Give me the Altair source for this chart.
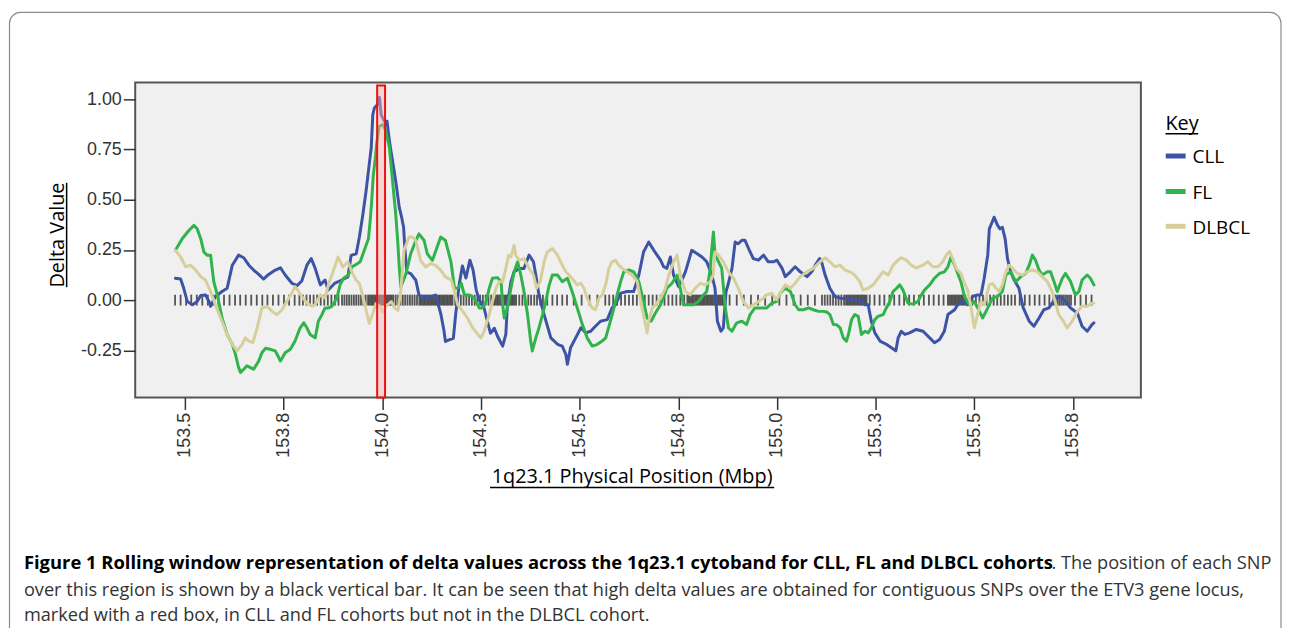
import altair as alt
import pandas as pd

# ---------------- data ----------------
series_names = ["CLL", "FL", "DLBCL"]
series_colors = ["#3d53a6", "#2fb34a", "#d6cf9c"]

cll = [
    (153.476, 0.109), (153.489, 0.105), (153.497, 0.059), (153.506, -0.007), (153.519, -0.023),
    (153.531, -0.007), (153.540, 0.023), (153.552, 0.026), (153.561, -0.007), (153.565, -0.031),
    (153.577, 0.018), (153.594, 0.043), (153.607, 0.059), (153.620, 0.174), (153.636, 0.224),
    (153.649, 0.211), (153.662, 0.174), (153.674, 0.150), (153.687, 0.128), (153.699, 0.105),
    (153.712, 0.128), (153.729, 0.150), (153.742, 0.161), (153.754, 0.125), (153.771, 0.084),
    (153.784, 0.072), (153.796, 0.095), (153.809, 0.174), (153.820, 0.207), (153.830, 0.158),
    (153.843, 0.076), (153.855, 0.100), (153.863, 0.050), (153.879, 0.083), (153.896, 0.099),
    (153.913, 0.116), (153.921, 0.223), (153.934, 0.231), (153.942, 0.314), (153.951, 0.429),
    (153.959, 0.545), (153.967, 0.677), (153.972, 0.759), (153.976, 0.924), (153.980, 0.957),
    (153.988, 0.974), (153.993, 1.010), (153.997, 0.924), (154.005, 0.891), (154.012, 0.891),
    (154.018, 0.792), (154.026, 0.693), (154.034, 0.594), (154.043, 0.462), (154.049, 0.413),
    (154.054, 0.363), (154.057, 0.264), (154.062, 0.140), (154.072, 0.132), (154.085, 0.099),
    (154.093, 0.025), (154.106, 0.008), (154.123, 0.017), (154.135, 0.025), (154.148, -0.066),
    (154.156, -0.149), (154.160, -0.206), (154.169, -0.198), (154.180, -0.190), (154.186, -0.070),
    (154.195, 0.080), (154.203, 0.170), (154.212, 0.110), (154.222, 0.199), (154.230, 0.150),
    (154.238, 0.050), (154.246, 0.000), (154.257, -0.033), (154.274, -0.165), (154.284, -0.140),
    (154.292, -0.180), (154.305, -0.229), (154.313, -0.171), (154.317, -0.023), (154.326, 0.092),
    (154.334, 0.141), (154.347, 0.158), (154.359, 0.158), (154.372, 0.224), (154.383, 0.191),
    (154.389, 0.125), (154.397, 0.026), (154.410, -0.072), (154.427, -0.188), (154.444, -0.220),
    (154.456, -0.229), (154.465, -0.270), (154.469, -0.319), (154.477, -0.237), (154.490, -0.188),
    (154.503, -0.138), (154.515, -0.163), (154.528, -0.155), (154.540, -0.130), (154.553, -0.105),
    (154.570, -0.097), (154.582, -0.039), (154.591, -0.023), (154.604, 0.035), (154.620, 0.043),
    (154.637, 0.043), (154.650, 0.125), (154.662, 0.240), (154.675, 0.289), (154.688, 0.248),
    (154.705, 0.199), (154.713, 0.166), (154.721, 0.158), (154.730, 0.215), (154.738, 0.125),
    (154.751, 0.067), (154.759, 0.100), (154.768, 0.141), (154.784, 0.248), (154.797, 0.232),
    (154.810, 0.215), (154.822, 0.191), (154.835, 0.125), (154.843, 0.059), (154.849, -0.105),
    (154.858, -0.155), (154.864, -0.138), (154.871, 0.043), (154.877, 0.084), (154.886, 0.158),
    (154.894, 0.289), (154.902, 0.281), (154.911, 0.298), (154.919, 0.298), (154.928, 0.257),
    (154.940, 0.207), (154.953, 0.199), (154.966, 0.224), (154.978, 0.191), (154.991, 0.191),
    (155.000, 0.199), (155.013, 0.158), (155.021, 0.117), (155.034, 0.141), (155.046, 0.166),
    (155.059, 0.141), (155.076, 0.117), (155.088, 0.141), (155.097, 0.174), (155.108, 0.207),
    (155.113, 0.191), (155.122, 0.125), (155.134, 0.059), (155.147, 0.018), (155.160, 0.010),
    (155.176, 0.007), (155.193, 0.002), (155.210, -0.003), (155.223, -0.023), (155.231, -0.023),
    (155.239, -0.105), (155.248, -0.163), (155.261, -0.204), (155.277, -0.220), (155.290, -0.237),
    (155.301, -0.253), (155.307, -0.188), (155.315, -0.155), (155.324, -0.171), (155.336, -0.163),
    (155.353, -0.146), (155.370, -0.155), (155.387, -0.188), (155.399, -0.212), (155.412, -0.196),
    (155.424, -0.155), (155.433, -0.072), (155.450, -0.048), (155.458, -0.023), (155.471, -0.007),
    (155.483, -0.023), (155.496, 0.018), (155.508, 0.026), (155.517, 0.026), (155.525, 0.109),
    (155.534, 0.224), (155.538, 0.355), (155.545, 0.388), (155.550, 0.413), (155.559, 0.372),
    (155.565, 0.355), (155.571, 0.363), (155.578, 0.306), (155.584, 0.207), (155.592, 0.141),
    (155.601, 0.100), (155.613, 0.059), (155.624, -0.039), (155.639, -0.105), (155.651, -0.130),
    (155.664, -0.089), (155.676, -0.048), (155.689, -0.039), (155.706, 0.010), (155.718, 0.018),
    (155.731, -0.007), (155.744, -0.039), (155.761, -0.064), (155.773, -0.130), (155.786, -0.155),
    (155.798, -0.122), (155.803, -0.113),
]

fl = [
    (153.476, 0.248), (153.493, 0.306), (153.510, 0.347), (153.523, 0.372), (153.531, 0.355),
    (153.540, 0.306), (153.548, 0.240), (153.556, 0.224), (153.565, 0.224), (153.573, 0.092),
    (153.582, 0.026), (153.594, -0.089), (153.607, -0.171), (153.620, -0.220), (153.628, -0.270),
    (153.636, -0.336), (153.641, -0.360), (153.649, -0.344), (153.657, -0.327), (153.666, -0.336),
    (153.674, -0.344), (153.687, -0.303), (153.695, -0.262), (153.704, -0.240), (153.716, -0.245),
    (153.729, -0.253), (153.742, -0.303), (153.754, -0.262), (153.767, -0.245), (153.779, -0.204),
    (153.792, -0.138), (153.801, -0.113), (153.809, -0.138), (153.817, -0.171), (153.830, -0.188),
    (153.838, -0.105), (153.847, -0.072), (153.855, -0.039), (153.864, -0.039), (153.872, -0.031),
    (153.885, 0.010), (153.893, 0.076), (153.902, 0.109), (153.914, 0.125), (153.923, 0.166),
    (153.931, 0.174), (153.944, 0.191), (153.956, 0.257), (153.965, 0.306), (153.969, 0.388),
    (153.973, 0.487), (153.977, 0.618), (153.982, 0.701), (153.986, 0.783), (153.992, 0.865),
    (154.001, 0.875), (154.009, 0.842), (154.018, 0.759), (154.026, 0.594), (154.034, 0.429),
    (154.039, 0.297), (154.043, 0.165), (154.047, 0.066), (154.060, 0.132), (154.072, 0.231),
    (154.085, 0.297), (154.093, 0.330), (154.106, 0.297), (154.114, 0.231), (154.127, 0.198),
    (154.139, 0.264), (154.148, 0.314), (154.160, 0.297), (154.174, 0.191), (154.183, 0.059),
    (154.191, 0.059), (154.200, 0.084), (154.208, 0.026), (154.221, 0.026), (154.233, 0.010),
    (154.246, -0.039), (154.254, -0.039), (154.263, -0.007), (154.271, 0.059), (154.279, 0.109),
    (154.292, 0.112), (154.301, 0.092), (154.305, -0.023), (154.309, -0.089), (154.317, -0.039),
    (154.326, 0.059), (154.334, 0.141), (154.343, 0.191), (154.351, 0.125), (154.359, 0.043),
    (154.368, -0.072), (154.376, -0.204), (154.380, -0.253), (154.389, -0.188), (154.397, -0.138),
    (154.406, -0.072), (154.414, -0.007), (154.423, 0.076), (154.431, 0.125), (154.444, 0.125),
    (154.456, 0.092), (154.469, 0.109), (154.481, 0.043), (154.494, -0.039), (154.507, -0.122),
    (154.519, -0.188), (154.532, -0.229), (154.545, -0.220), (154.557, -0.204), (154.566, -0.188),
    (154.578, -0.105), (154.587, -0.039), (154.595, 0.026), (154.604, 0.092), (154.612, 0.141),
    (154.625, 0.150), (154.637, 0.141), (154.650, 0.092), (154.662, -0.007), (154.671, -0.089),
    (154.681, -0.105), (154.692, -0.064), (154.705, -0.023), (154.713, 0.018), (154.721, 0.059),
    (154.734, 0.084), (154.747, 0.125), (154.755, 0.059), (154.763, -0.023), (154.776, -0.023),
    (154.789, -0.023), (154.801, -0.007), (154.814, 0.026), (154.822, 0.043), (154.831, 0.158),
    (154.835, 0.257), (154.839, 0.339), (154.843, 0.224), (154.852, 0.191), (154.860, 0.158),
    (154.869, -0.039), (154.877, -0.138), (154.886, -0.155), (154.898, -0.113), (154.911, -0.105),
    (154.923, -0.122), (154.932, -0.072), (154.944, -0.039), (154.957, -0.039), (154.974, -0.039),
    (154.987, -0.015), (154.999, -0.007), (155.008, 0.035), (155.021, 0.059), (155.034, 0.043),
    (155.046, -0.023), (155.055, -0.048), (155.067, -0.048), (155.080, -0.039), (155.092, -0.048),
    (155.105, -0.056), (155.118, -0.056), (155.126, -0.059), (155.134, -0.072), (155.143, -0.122),
    (155.151, -0.122), (155.160, -0.138), (155.168, -0.188), (155.176, -0.204), (155.181, -0.171),
    (155.189, -0.097), (155.197, -0.072), (155.206, -0.081), (155.214, -0.171), (155.223, -0.155),
    (155.231, -0.163), (155.239, -0.138), (155.248, -0.097), (155.256, -0.081), (155.269, -0.072),
    (155.277, -0.039), (155.286, -0.007), (155.294, 0.043), (155.303, 0.059), (155.311, 0.076),
    (155.319, 0.051), (155.332, -0.015), (155.345, -0.020), (155.357, -0.007), (155.366, 0.026),
    (155.374, 0.051), (155.387, 0.076), (155.399, 0.109), (155.412, 0.133), (155.424, 0.141),
    (155.433, 0.166), (155.441, 0.215), (155.450, 0.174), (155.458, 0.133), (155.466, 0.092),
    (155.475, 0.018), (155.487, -0.023), (155.500, -0.007), (155.513, -0.056), (155.521, -0.089),
    (155.534, -0.039), (155.546, 0.010), (155.559, 0.018), (155.571, 0.043), (155.580, 0.125),
    (155.592, 0.141), (155.605, 0.092), (155.618, 0.117), (155.630, 0.133), (155.639, 0.174),
    (155.647, 0.224), (155.655, 0.199), (155.664, 0.150), (155.672, 0.125), (155.685, 0.141),
    (155.693, 0.141), (155.702, 0.092), (155.710, 0.043), (155.723, 0.109), (155.731, 0.133),
    (155.744, 0.092), (155.756, 0.026), (155.765, 0.043), (155.773, 0.100), (155.786, 0.125),
    (155.794, 0.109), (155.803, 0.076),
]

dlbcl = [
    (153.476, 0.248), (153.489, 0.215), (153.502, 0.166), (153.514, 0.174), (153.527, 0.150),
    (153.540, 0.117), (153.552, 0.100), (153.565, 0.043), (153.577, -0.023), (153.594, -0.105),
    (153.607, -0.171), (153.620, -0.220), (153.632, -0.253), (153.645, -0.220), (153.653, -0.188),
    (153.662, -0.204), (153.672, -0.212), (153.683, -0.138), (153.695, -0.039), (153.708, -0.031),
    (153.721, -0.056), (153.733, -0.072), (153.746, -0.048), (153.758, -0.007), (153.771, 0.035),
    (153.779, 0.067), (153.788, 0.043), (153.796, 0.018), (153.809, -0.015), (153.822, -0.031),
    (153.830, -0.023), (153.843, 0.026), (153.855, 0.010), (153.864, 0.080), (153.875, 0.140),
    (153.888, 0.215), (153.900, 0.165), (153.913, 0.190), (153.925, 0.132), (153.934, 0.099),
    (153.942, 0.083), (153.951, 0.017), (153.959, -0.050), (153.967, -0.116), (153.976, -0.066),
    (153.984, -0.017), (153.993, -0.030), (154.001, -0.060), (154.009, -0.030), (154.023, -0.007),
    (154.031, -0.039), (154.040, -0.050), (154.047, 0.050), (154.055, 0.248), (154.068, 0.314),
    (154.076, 0.314), (154.085, 0.297), (154.097, 0.198), (154.110, 0.165), (154.123, 0.182),
    (154.135, 0.173), (154.148, 0.149), (154.160, 0.116), (154.175, 0.100), (154.183, 0.043),
    (154.191, -0.023), (154.204, -0.056), (154.216, -0.089), (154.229, -0.138), (154.242, -0.171),
    (154.250, -0.188), (154.258, -0.155), (154.271, -0.072), (154.279, -0.007), (154.288, 0.059),
    (154.296, 0.092), (154.305, 0.092), (154.313, 0.158), (154.320, 0.224), (154.326, 0.215),
    (154.334, 0.273), (154.338, 0.224), (154.347, 0.199), (154.359, 0.207), (154.372, 0.158),
    (154.383, 0.125), (154.391, 0.059), (154.400, 0.092), (154.410, 0.191), (154.418, 0.240),
    (154.431, 0.257), (154.444, 0.224), (154.456, 0.174), (154.465, 0.141), (154.473, 0.125),
    (154.484, 0.100), (154.494, 0.076), (154.503, 0.084), (154.511, 0.059), (154.519, 0.010),
    (154.532, -0.039), (154.540, -0.048), (154.549, 0.010), (154.557, 0.026), (154.566, 0.076),
    (154.574, 0.158), (154.582, 0.191), (154.591, 0.199), (154.599, 0.174), (154.608, 0.158),
    (154.620, 0.141), (154.633, 0.125), (154.646, 0.092), (154.658, -0.039), (154.667, -0.122),
    (154.671, -0.163), (154.675, -0.105), (154.684, -0.039), (154.692, -0.023), (154.705, 0.010),
    (154.717, 0.059), (154.726, 0.125), (154.738, 0.191), (154.747, 0.224), (154.755, 0.125),
    (154.768, 0.043), (154.780, 0.026), (154.793, 0.059), (154.806, 0.084), (154.818, 0.076),
    (154.831, 0.092), (154.838, 0.125), (154.843, 0.240), (154.852, 0.224), (154.864, 0.191),
    (154.877, 0.141), (154.890, 0.109), (154.902, 0.059), (154.915, -0.007), (154.928, -0.039),
    (154.940, -0.023), (154.953, -0.007), (154.966, 0.010), (154.974, 0.026), (154.987, 0.035),
    (154.999, 0.002), (155.008, 0.035), (155.021, 0.076), (155.034, 0.059), (155.046, 0.084),
    (155.059, 0.117), (155.076, 0.141), (155.092, 0.158), (155.109, 0.191), (155.122, 0.211),
    (155.134, 0.191), (155.147, 0.166), (155.160, 0.174), (155.172, 0.150), (155.185, 0.141),
    (155.197, 0.125), (155.210, 0.092), (155.218, 0.051), (155.231, 0.059), (155.244, 0.076),
    (155.256, 0.109), (155.269, 0.141), (155.282, 0.125), (155.294, 0.174), (155.307, 0.199),
    (155.315, 0.211), (155.328, 0.199), (155.340, 0.174), (155.353, 0.161), (155.370, 0.174),
    (155.382, 0.191), (155.395, 0.166), (155.408, 0.166), (155.420, 0.191), (155.429, 0.224),
    (155.437, 0.243), (155.445, 0.207), (155.454, 0.158), (155.466, 0.133), (155.475, 0.084),
    (155.483, 0.051), (155.492, -0.039), (155.500, -0.138), (155.508, -0.072), (155.517, -0.007),
    (155.525, -0.023), (155.538, 0.076), (155.546, 0.084), (155.555, 0.059), (155.563, 0.043),
    (155.571, 0.076), (155.580, 0.141), (155.588, 0.174), (155.597, 0.158), (155.609, 0.133),
    (155.622, 0.125), (155.634, 0.141), (155.647, 0.150), (155.660, 0.141), (155.672, 0.117),
    (155.685, 0.092), (155.697, 0.043), (155.706, -0.015), (155.714, -0.072), (155.723, -0.097),
    (155.735, -0.138), (155.748, -0.105), (155.761, -0.056), (155.773, -0.031), (155.786, -0.031),
    (155.798, -0.015), (155.803, -0.015),
]

snp_positions = [
    153.475, 153.489, 153.503, 153.516, 153.530, 153.544, 153.558, 153.572, 153.585, 153.599,
    153.613, 153.627, 153.640, 153.654, 153.668, 153.682, 153.696, 153.709, 153.723, 153.737,
    153.751, 153.764, 153.778, 153.790, 153.799, 153.808, 153.817, 153.826, 153.835, 153.844,
    153.853, 153.862, 153.871, 153.880, 153.889, 153.898, 153.904, 153.910, 153.916, 153.922,
    153.928, 153.934, 153.940, 153.946, 153.952, 153.958, 153.964, 153.968, 153.972, 153.976,
    153.980, 153.984, 153.988, 153.992, 153.996, 154.000, 154.004, 154.008, 154.012, 154.016,
    154.020, 154.024, 154.028, 154.034, 154.040, 154.046, 154.052, 154.058, 154.064, 154.070,
    154.076, 154.082, 154.088, 154.094, 154.098, 154.102, 154.106, 154.110, 154.114, 154.118,
    154.122, 154.126, 154.130, 154.134, 154.138, 154.142, 154.146, 154.150, 154.154, 154.158,
    154.162, 154.166, 154.170, 154.174, 154.178, 154.185, 154.192, 154.199, 154.206, 154.213,
    154.220, 154.227, 154.234, 154.241, 154.248, 154.255, 154.262, 154.269, 154.276, 154.283,
    154.287, 154.291, 154.295, 154.299, 154.303, 154.307, 154.311, 154.315, 154.319, 154.323,
    154.327, 154.331, 154.335, 154.339, 154.347, 154.355, 154.362, 154.370, 154.377, 154.385,
    154.392, 154.400, 154.407, 154.418, 154.431, 154.443, 154.456, 154.468, 154.485, 154.505,
    154.525, 154.545, 154.565, 154.575, 154.585, 154.595, 154.605, 154.615, 154.625, 154.635,
    154.645, 154.655, 154.665, 154.675, 154.685, 154.695, 154.705, 154.715, 154.725, 154.735,
    154.745, 154.755, 154.765, 154.773, 154.777, 154.781, 154.785, 154.789, 154.793, 154.797,
    154.801, 154.805, 154.809, 154.813, 154.817, 154.821, 154.825, 154.829, 154.833, 154.837,
    154.841, 154.845, 154.849, 154.853, 154.857, 154.861, 154.865, 154.869, 154.880, 154.898,
    154.916, 154.934, 154.952, 154.970, 154.988, 155.006, 155.024, 155.042, 155.060, 155.078,
    155.096, 155.114, 155.121, 155.128, 155.135, 155.142, 155.149, 155.156, 155.163, 155.170,
    155.175, 155.179, 155.183, 155.187, 155.191, 155.195, 155.199, 155.203, 155.207, 155.211,
    155.215, 155.219, 155.223, 155.227, 155.235, 155.247, 155.260, 155.272, 155.285, 155.297,
    155.310, 155.322, 155.335, 155.347, 155.360, 155.372, 155.385, 155.397, 155.410, 155.422,
    155.433, 155.437, 155.441, 155.445, 155.449, 155.453, 155.457, 155.461, 155.465, 155.469,
    155.473, 155.477, 155.486, 155.495, 155.504, 155.513, 155.522, 155.531, 155.540, 155.549,
    155.558, 155.567, 155.576, 155.585, 155.594, 155.603, 155.615, 155.628, 155.640, 155.653,
    155.665, 155.678, 155.690, 155.700, 155.705, 155.710, 155.715, 155.720, 155.725, 155.730,
    155.735, 155.740, 155.745, 155.755, 155.769, 155.783, 155.797,
]

x_ticks = [153.5, 153.75, 154.0, 154.25, 154.5, 154.75, 155.0, 155.25, 155.5, 155.75]
y_ticks = [-0.25, 0.0, 0.25, 0.5, 0.75, 1.0]
x_domain = [153.374, 155.922]
y_domain = [-0.485, 1.084]

etv3_box = {"start": 153.987, "end": 154.007, "top": 1.069, "bottom": -0.485}

x_title = "1q23.1 Physical Position (Mbp)"
y_title = "Delta Value"
legend_title = "Key"
caption_bold = ("Figure 1 Rolling window representation of delta values across the "
                "1q23.1 cytoband for CLL, FL and DLBCL cohorts")
caption_rest1 = ". The position of each SNP"
caption_line2 = ("over this region is shown by a black vertical bar. It can be seen that high delta "
                 "values are obtained for contiguous SNPs over the ETV3 gene locus,")
caption_line3 = "marked with a red box, in CLL and FL cohorts but not in the DLBCL cohort."

# ---------------- chart ----------------
W, H = 1012, 317
TITLE_FONT = "Open Sans"
TICK_FONT = "Liberation Sans"
CAP_FONT = "Open Sans"

xs = alt.Scale(domain=x_domain, nice=False, zero=False)
ys = alt.Scale(domain=y_domain, nice=False, zero=False)

x_axis = alt.Axis(values=x_ticks, format=".1f", labelAngle=270, labelAlign="right",
                  labelBaseline="middle", labelFont=TICK_FONT, labelFontSize=18,
                  labelColor="#333333", labelPadding=3, tickSize=12, tickColor="#333333",
                  tickWidth=1.5, domain=False, grid=False, title=None, labelOverlap=False,
                  labelFlush=False)
y_axis = alt.Axis(values=y_ticks, labelExpr="replace(format(datum.value, '.2f'), '\u2212', '-')",
                  labelFont=TICK_FONT, labelFontSize=18, labelColor="#333333", labelPadding=2,
                  tickSize=12, tickColor="#333333", tickWidth=1.5, domain=False, grid=False,
                  title=None)

empty = alt.Data(values=[{}])

layers = []

# outer figure border
layers.append(alt.Chart(empty).mark_rect(fill="white", fillOpacity=0, stroke="#8a8a8a",
                                          strokeWidth=1.2, cornerRadius=11).encode(
    x=alt.value(-126.5), x2=alt.value(1153), y=alt.value(-70.5), y2=alt.value(620)))

# SNP positions
snp_df = pd.DataFrame({"pos": snp_positions, "zero": [0.0] * len(snp_positions)})
layers.append(alt.Chart(snp_df).mark_tick(orient="vertical", color="#111111", thickness=1.8,
                                          size=11).encode(
    x=alt.X("pos:Q", scale=xs, axis=x_axis), y=alt.Y("zero:Q", scale=ys, axis=y_axis)))

# series lines
for name, color, pts in zip(series_names, series_colors, [cll, fl, dlbcl]):
    df = pd.DataFrame(pts, columns=["pos", "delta"])
    df["cohort"] = name
    layers.append(alt.Chart(df).mark_line(strokeWidth=3, strokeJoin="round", strokeCap="round",
                                          color=color).encode(
        x=alt.X("pos:Q", scale=xs, axis=x_axis), y=alt.Y("delta:Q", scale=ys, axis=y_axis),
        order="pos:Q"))

# ETV3 red box
box_df = pd.DataFrame([etv3_box])
layers.append(alt.Chart(box_df).mark_rect(fill="#ffb3b3", fillOpacity=0.45, stroke="#ee1111",
                                          strokeWidth=2).encode(
    x=alt.X("start:Q", scale=xs, axis=x_axis), x2="end:Q",
    y=alt.Y("top:Q", scale=ys, axis=y_axis), y2="bottom:Q"))


def text(t, x, y, size, font=TITLE_FONT, weight="normal", align="left", angle=0, color="black"):
    return alt.Chart(empty).mark_text(text=t, font=font, fontSize=size, fontWeight=weight,
                                      align=align, baseline="alphabetic", angle=angle,
                                      color=color).encode(x=alt.value(x), y=alt.value(y))


def hrule(x1, x2, y, width=1.5, color="black"):
    return alt.Chart(empty).mark_rule(color=color, strokeWidth=width).encode(
        x=alt.value(x1), x2=alt.value(x2), y=alt.value(y))


# axis titles (underlined)
layers.append(text(x_title, 500, 403, 20, align="center"))
layers.append(hrule(357, 643, 407.5))
layers.append(text(y_title, -72, 153.5, 20, align="center", angle=270))
layers.append(alt.Chart(empty).mark_rule(color="black", strokeWidth=1.5).encode(
    x=alt.value(-69), y=alt.value(101), y2=alt.value(206)))

# legend
layers.append(text(legend_title, 1036.7, 48, 20))
layers.append(hrule(1036.7, 1069.7, 51.5))
legend_rows = [74, 109.7, 144.7]
for name, color, yy in zip(series_names, series_colors, legend_rows):
    layers.append(hrule(1037, 1057, yy, width=5, color=color))
    layers.append(text(name, 1064, yy + 7.3, 19))

# caption
CAP = 18.3
layers.append(text(caption_bold, -112, 490, 18.5, font=CAP_FONT, weight="bold"))
layers.append(text(caption_rest1, 922, 490, CAP, font=CAP_FONT, color="#333333"))
layers.append(text(caption_line2, -112, 517, CAP, font=CAP_FONT, color="#333333"))
layers.append(text(caption_line3, -112, 542, CAP, font=CAP_FONT, color="#333333"))

chart = alt.layer(*layers).properties(
    width=W, height=H,
    autosize=alt.AutoSizeParams(type="none"),
    padding={"left": 128, "top": 73, "right": 143, "bottom": 230},
    background="white",
).configure_view(fill="#f0f0f0", stroke="#555555", strokeWidth=2)

chart.save("out.html", embed_options={"renderer": "svg", "actions": False})
